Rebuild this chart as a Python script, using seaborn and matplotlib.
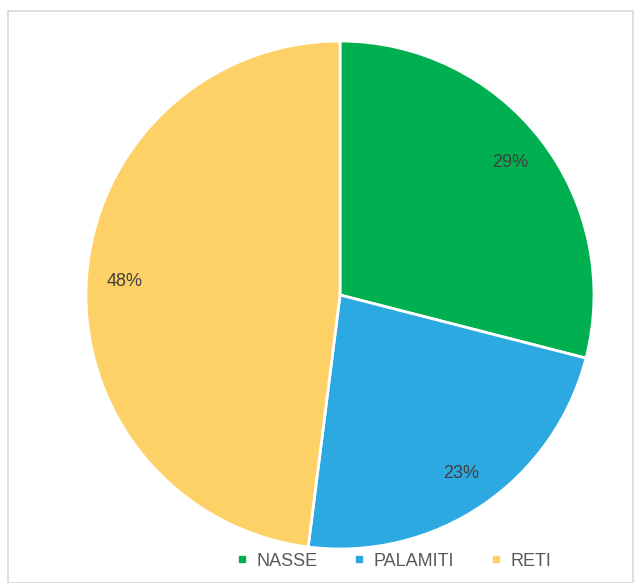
import matplotlib
matplotlib.use("Agg")
import matplotlib.pyplot as plt
import matplotlib.patches as mpatches
import seaborn as sns

# Dati
categorie = ["NASSE", "PALAMITI", "RETI"]
percentuali = [29, 23, 48]
colori = ["#00B050", "#2CA9E1", "#FDD166"]

sns.set_theme(style="white")
plt.rcParams["font.family"] = ["Liberation Sans", "DejaVu Sans"]

fig = plt.figure(figsize=(6.34, 5.83), dpi=100)

# Cornice grigia
fig.patches.append(mpatches.Rectangle((8 / 634, 0.5 / 583), 625 / 634, 572 / 583,
                                      transform=fig.transFigure, fill=False,
                                      edgecolor="#D9D9D9", linewidth=1.2))

# Torta
r = 254
ax = fig.add_axes([(340 - r) / 634, (288 - r) / 583, 2 * r / 634, 2 * r / 583])
wedges, testi, pct = ax.pie(percentuali, colors=colori, startangle=90, counterclock=False,
                            autopct="%d%%", pctdistance=0.85, radius=1,
                            wedgeprops=dict(edgecolor="white", linewidth=2),
                            textprops=dict(color="#404040", fontsize=13))
ax.set_xlim(-1, 1)
ax.set_ylim(-1, 1)
ax.set_aspect("equal")
ax.axis("off")

# Legenda
maniglie = [plt.Line2D([0], [0], marker="s", linestyle="", markersize=5,
                       markerfacecolor=c, markeredgecolor=c) for c in colori]
fig.legend(maniglie, categorie, loc="center", bbox_to_anchor=(392 / 634, 1 - 561 / 583),
           ncol=3, frameon=False, fontsize=13, handletextpad=0.3, columnspacing=1.8,
           handlelength=1.0, labelcolor="#595959")

fig.savefig("out.png", dpi=100)
